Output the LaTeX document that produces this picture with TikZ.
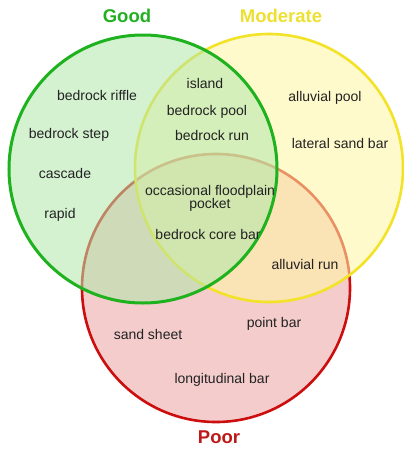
\documentclass[tikz,border=0pt]{standalone}
\usepackage{fontspec}
\setmainfont{Liberation Sans}
\definecolor{gstroke}{RGB}{30,178,30}
\definecolor{gfill}{RGB}{177,231,170}
\definecolor{ystroke}{RGB}{242,226,40}
\definecolor{yfill}{RGB}{255,246,165}
\definecolor{rstroke}{RGB}{204,14,14}
\definecolor{rfill}{RGB}{245,204,204}
\definecolor{txt}{RGB}{34,34,34}
\definecolor{goodc}{RGB}{34,176,34}
\definecolor{modc}{RGB}{238,224,50}
\definecolor{poorc}{RGB}{190,24,24}
\begin{document}
\begin{tikzpicture}[x=1pt,y=-1pt,
  setc/.style={circle,inner sep=0pt,minimum size=268pt},
  item/.style={text=txt,font=\fontsize{14}{15}\selectfont,inner sep=0pt,align=center},
  title/.style={font=\bfseries\fontsize{18.5}{20}\selectfont,inner sep=0pt}]
\useasboundingbox (0,0) rectangle (404,450);
\node[setc,draw=rstroke,line width=2.6pt,fill=rfill] (poor) at (216,288) {};
\node[setc,draw=ystroke,line width=2.6pt,fill=yfill,fill opacity=0.57] (moderate) at (269,168) {};
\node[setc,draw=gstroke,line width=3pt,fill=gfill,fill opacity=0.55] (good) at (143,169) {};
\node[title,text=goodc] (tgood) at (127,16) {Good};
\node[title,text=modc] (tmod) at (281,16) {Moderate};
\node[title,text=poorc] (tpoor) at (219,437) {Poor};
\node[item] (n1) at (97,95) {bedrock riffle};
\node[item] (n2) at (69,135) {bedrock step};
\node[item] (n3) at (65,173) {cascade};
\node[item] (n4) at (60,215) {rapid};
\node[item] (n5) at (205,83) {island};
\node[item] (n6) at (207,112) {bedrock pool};
\node[item] (n7) at (212,135) {bedrock run};
\node[item] (n8) at (325,98) {alluvial pool};
\node[item] (n9) at (340,143) {lateral sand bar};
\node[item] (n10) at (210,198) {occasional floodplain\\[-2pt]pocket};
\node[item] (n11) at (208,234) {bedrock core bar};
\node[item] (n12) at (305,264) {alluvial run};
\node[item] (n13) at (148,334) {sand sheet};
\node[item] (n14) at (274,324) {point bar};
\node[item] (n15) at (222,380) {longitudinal bar};
\end{tikzpicture}
\end{document}
